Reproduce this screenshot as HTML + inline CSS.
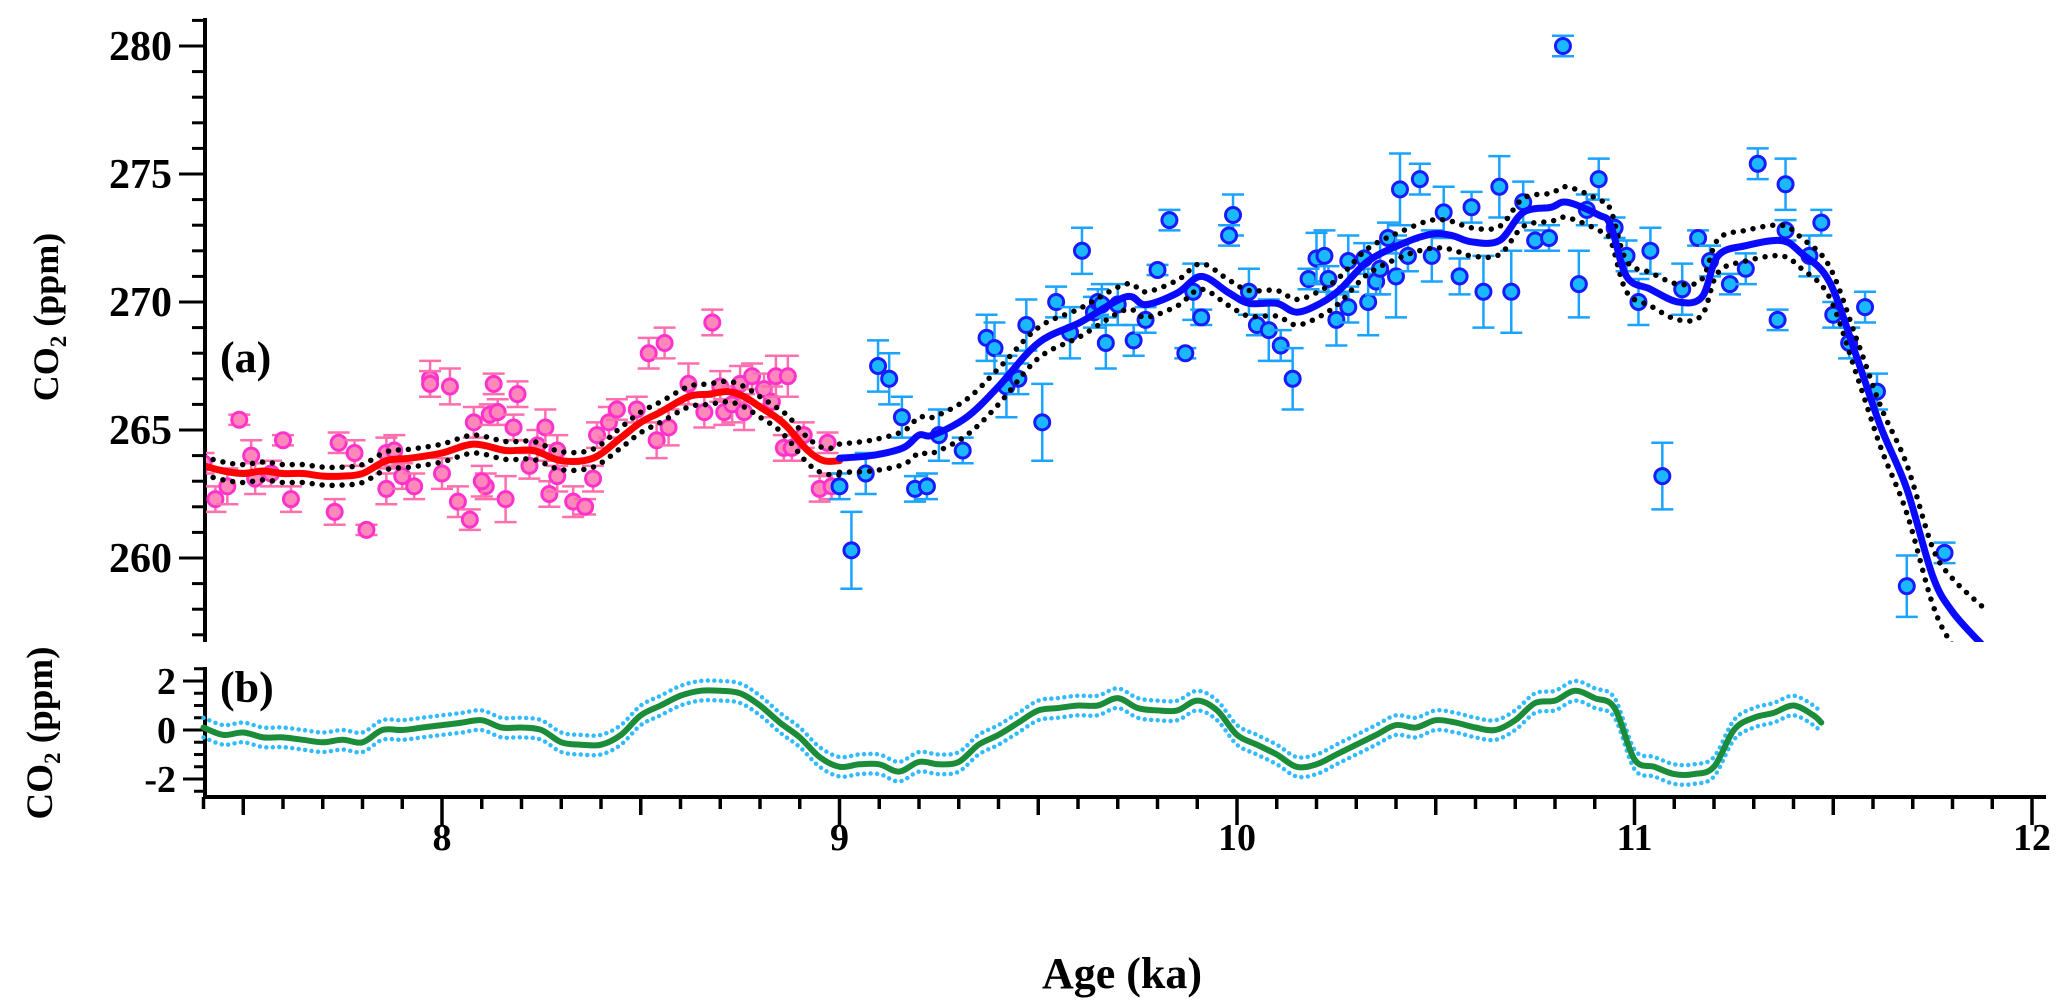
<!DOCTYPE html>
<html><head><meta charset="utf-8"><style>
html,body{margin:0;padding:0;background:#fff;}
svg{display:block;font-family:"Liberation Serif",serif;font-weight:bold;}
</style></head><body>
<svg id="chart" width="2067" height="1005" viewBox="0 0 2067 1005" xmlns="http://www.w3.org/2000/svg">
<defs><clipPath id="clipTop"><rect x="206" y="0" width="1861" height="642"/></clipPath></defs>
<g id="axes"></g>
<g id="topPanel" clip-path="url(#clipTop)"></g>
<g id="botPanel"></g>
<text x="220" y="372" font-size="44">(a)</text>
<text x="220" y="702" font-size="44">(b)</text>
<text transform="translate(58,317) rotate(-90)" text-anchor="middle" font-size="36">CO<tspan font-size="23" dy="8">2</tspan><tspan dy="-8"> (ppm)</tspan></text>
<text transform="translate(52,733) rotate(-90)" text-anchor="middle" font-size="37">CO<tspan font-size="23" dy="8">2</tspan><tspan dy="-8"> (ppm)</tspan></text>
<text x="1122" y="988" text-anchor="middle" font-size="44">Age (ka)</text>
</svg>
<script>
// ---- data ----
const pinkAge=[7.40,7.49,7.52,7.60,7.74,7.78,7.86,7.88,7.97,8.02,8.08,8.12,8.14,8.13,8.19,8.18,8.24,8.26,8.29,8.39,8.42,8.44,8.49,8.52,8.54,8.56,8.68,8.62,8.70,8.66,8.71,8.73,8.75,8.76,8.78,8.81,8.83,8.84,8.87,8.57,8.91,8.97,8.86,8.88,7.43,7.46,7.53,7.57,7.62,7.73,7.81,7.86,7.90,7.93,8.04,8.07,8.11,8.16,8.22,8.27,8.29,8.33,8.36,8.38,8.95,8.98,7.97,8.00,8.10];
const pinkVal=[263.7,265.4,264.0,264.6,264.5,264.1,264.1,264.2,267.0,266.7,265.3,265.6,265.7,266.8,266.4,265.1,264.4,265.1,264.2,264.8,265.3,265.8,265.8,268.0,264.6,268.4,269.2,266.8,266.7,265.7,265.7,266.0,266.8,265.7,267.1,266.6,266.1,267.1,267.1,265.1,264.8,264.5,264.3,264.3,262.3,262.8,263.1,263.3,262.3,261.8,261.1,262.7,263.2,262.8,262.2,261.5,262.8,262.3,263.6,262.5,263.2,262.2,262.0,263.1,262.7,262.8,266.8,263.3,263.0];
const pinkErr=[0.4,0.2,0.6,0.2,0.4,0.5,0.6,0.6,0.7,0.7,0.6,0.4,0.5,0.4,0.5,0.5,0.6,0.7,0.6,0.5,0.6,0.4,0.5,0.6,0.7,0.6,0.5,0.8,0.6,0.6,0.5,0.7,0.7,0.7,0.5,0.6,0.6,0.8,0.8,0.7,0.5,0.4,0.5,0.5,0.5,0.7,0.6,0.5,0.5,0.5,0.2,0.6,0.5,0.5,0.6,0.4,0.5,0.9,0.5,0.5,0.6,0.6,0.3,0.5,0.5,0.5,0.5,0.6,0.6];
const blueAge=[9.00,9.03,9.066,9.097,9.125,9.157,9.19,9.22,9.25,9.31,9.37,9.39,9.42,9.45,9.47,9.51,9.545,9.58,9.61,9.64,9.65,9.66,9.67,9.70,9.74,9.77,9.80,9.83,9.87,9.89,9.91,9.99,9.98,10.03,10.05,10.08,10.11,10.14,10.18,10.20,10.22,10.23,10.25,10.28,10.28,10.32,10.33,10.35,10.36,10.38,10.40,10.41,10.43,10.46,10.49,10.52,10.56,10.59,10.62,10.66,10.69,10.72,10.75,10.785,10.82,10.86,10.91,10.88,10.95,10.98,11.01,11.04,11.07,11.12,11.16,11.19,11.24,11.28,11.31,11.36,11.38,11.38,11.44,11.47,11.50,11.54,11.58,11.61,11.685,11.78];
const blueVal=[262.8,260.3,263.3,267.5,267.0,265.5,262.7,262.8,264.8,264.2,268.6,268.2,266.7,267.0,269.1,265.3,270.0,268.8,272.0,269.6,270.0,269.9,268.4,269.9,268.5,269.3,271.25,273.2,268.0,270.4,269.4,273.4,272.6,270.4,269.1,268.9,268.3,267.0,270.9,271.7,271.8,270.9,269.3,269.8,271.6,271.7,270.0,270.8,271.3,272.5,271.0,274.4,271.8,274.8,271.8,273.5,271.0,273.7,270.4,274.5,270.4,273.9,272.4,272.5,280.0,270.7,274.8,273.6,272.9,271.8,270.0,272.0,263.2,270.5,272.5,271.6,270.7,271.3,275.4,269.3,272.8,274.6,271.8,273.1,269.5,268.4,269.8,266.5,258.9,260.2];
const blueErr=[0.5,1.5,0.8,1.0,1.0,0.8,0.5,0.5,1.0,0.5,0.9,1.0,1.2,0.6,1.0,1.5,0.6,1.0,0.9,0.6,0.5,0.8,1.0,0.8,0.6,0.5,0.2,0.4,0.2,1.1,0.3,0.8,0.4,0.9,0.4,1.2,0.6,1.2,0.4,1.0,1.0,0.5,1.0,0.6,1.0,0.6,1.3,0.5,1.0,0.6,1.6,1.4,0.6,0.6,1.0,1.0,0.7,0.6,1.4,1.2,1.6,0.8,0.4,0.5,0.4,1.3,0.8,0.6,0.4,0.6,0.9,0.9,1.3,1.0,0.3,0.6,0.4,0.6,0.6,0.4,0.4,1.0,0.8,0.5,0.5,0.6,0.6,0.7,1.2,0.4];
const redAge=[7.40,7.45,7.50,7.55,7.60,7.65,7.70,7.75,7.80,7.86,7.92,8.00,8.08,8.16,8.23,8.30,8.38,8.45,8.50,8.55,8.62,8.67,8.72,8.76,8.80,8.84,8.87,8.92,8.96,9.00];
const redVal=[263.6,263.4,263.3,263.4,263.3,263.3,263.2,263.2,263.3,263.8,263.9,264.1,264.45,264.2,264.2,263.8,263.9,264.7,265.3,265.7,266.3,266.4,266.5,266.3,265.9,265.5,265.1,264.2,263.8,263.8];
const redBand=[0.35,0.35,0.35,0.35,0.35,0.35,0.35,0.35,0.35,0.35,0.35,0.35,0.35,0.35,0.35,0.35,0.35,0.4,0.4,0.4,0.4,0.4,0.4,0.4,0.4,0.4,0.45,0.5,0.5,0.55];
const blueAgeC=[9.00,9.08,9.16,9.20,9.235,9.32,9.40,9.50,9.605,9.72,9.77,9.85,9.91,9.98,10.03,10.10,10.15,10.21,10.26,10.33,10.42,10.49,10.54,10.59,10.66,10.72,10.79,10.83,10.91,10.94,10.98,11.04,11.11,11.17,11.21,11.28,11.37,11.42,11.49,11.56,11.62,11.685,11.75,11.80,11.875];
const blueValC=[263.9,264.0,264.3,264.8,264.8,265.5,266.7,268.4,269.2,270.2,269.9,270.35,271.0,270.35,269.95,269.95,269.6,269.95,270.5,271.6,272.3,272.65,272.6,272.35,272.4,273.5,273.7,273.9,273.4,273.0,271.0,270.5,270.0,270.2,271.8,272.2,272.4,271.9,270.8,267.8,265.1,262.7,259.3,257.9,256.6];
const blueBand=[0.55,0.6,0.65,0.7,0.7,0.7,0.7,0.6,0.55,0.5,0.5,0.5,0.5,0.5,0.5,0.5,0.5,0.5,0.5,0.5,0.5,0.55,0.55,0.55,0.55,0.55,0.55,0.6,0.6,0.6,0.6,0.65,0.7,0.7,0.65,0.6,0.6,0.6,0.6,0.7,0.8,0.95,1.1,1.3,1.5];
const resAge=[7.40,7.45,7.50,7.55,7.60,7.65,7.70,7.75,7.80,7.85,7.90,7.95,8.00,8.05,8.10,8.15,8.20,8.25,8.30,8.35,8.40,8.45,8.50,8.55,8.60,8.65,8.70,8.75,8.80,8.85,8.90,8.95,9.00,9.05,9.10,9.15,9.20,9.25,9.30,9.35,9.40,9.45,9.50,9.55,9.60,9.65,9.70,9.75,9.80,9.85,9.90,9.95,10.00,10.05,10.10,10.15,10.20,10.25,10.30,10.35,10.40,10.45,10.50,10.55,10.60,10.65,10.70,10.75,10.80,10.85,10.90,10.95,11.00,11.05,11.10,11.15,11.20,11.25,11.30,11.35,11.40,11.45,11.47];
const resVal=[0.1,-0.2,-0.1,-0.3,-0.3,-0.4,-0.5,-0.4,-0.5,0.0,0.0,0.1,0.2,0.3,0.4,0.1,0.1,0.0,-0.5,-0.6,-0.6,-0.2,0.6,1.0,1.4,1.6,1.6,1.5,1.0,0.3,-0.3,-1.1,-1.5,-1.4,-1.4,-1.7,-1.3,-1.4,-1.3,-0.6,-0.2,0.3,0.8,0.9,1.0,1.0,1.3,0.9,0.8,0.8,1.2,0.8,-0.2,-0.6,-1.0,-1.5,-1.4,-1.0,-0.6,-0.2,0.2,0.1,0.4,0.3,0.1,0.0,0.4,1.1,1.2,1.6,1.3,0.9,-1.2,-1.5,-1.8,-1.8,-1.5,0.0,0.5,0.7,1.0,0.6,0.3];
const resBand=0.4;
const xTicks=[8,9,10,11,12];
const yTicksA=[260,265,270,275,280];
const yTicksB=[-2,0,2];

// ---- scales ----
const X0=442, XS=397.5;
const xS=a=>X0+(a-8)*XS;
const yA=v=>302-(v-270)*25.6;
const yB=v=>730-v*24.5;
const NS="http://www.w3.org/2000/svg";
function mk(tag,attrs,parent){const e=document.createElementNS(NS,tag);for(const k in attrs)e.setAttribute(k,attrs[k]);parent.appendChild(e);return e;}
function smooth(pts){let d="M"+pts[0][0].toFixed(1)+","+pts[0][1].toFixed(1);
 for(let i=0;i<pts.length-1;i++){const p0=pts[i-1]||pts[i],p1=pts[i],p2=pts[i+1],p3=pts[i+2]||p2;
  const c1=[p1[0]+(p2[0]-p0[0])/6,p1[1]+(p2[1]-p0[1])/6],c2=[p2[0]-(p3[0]-p1[0])/6,p2[1]-(p3[1]-p1[1])/6];
  d+="C"+c1[0].toFixed(1)+","+c1[1].toFixed(1)+" "+c2[0].toFixed(1)+","+c2[1].toFixed(1)+" "+p2[0].toFixed(1)+","+p2[1].toFixed(1);}
 return d;}

const gAxes=document.getElementById('axes'),gTop=document.getElementById('topPanel'),gBot=document.getElementById('botPanel');
let el;
el=mk('line',{x1:205,y1:18,x2:205,y2:642,stroke:'#000','stroke-width':4},gAxes);


for(let v=257;v<=281;v++){const maj=v%5===0;
 el=mk('line',{x1:maj?179:192,x2:205,y1:yA(v),y2:yA(v),stroke:'#000','stroke-width':3},gAxes);
 
 }
yTicksA.forEach(v=>{el=mk('text',{x:172,y:yA(v)+14,'text-anchor':'end','font-size':42},gAxes);el.textContent=v;
 
 });
el=mk('line',{x1:205,y1:667,x2:205,y2:798,stroke:'#000','stroke-width':4},gAxes);


for(let k=-5;k<=5;k++){const v=k*0.5;const maj=(k%4===0);
 el=mk('line',{x1:maj?183:194,x2:205,y1:yB(v),y2:yB(v),stroke:'#000','stroke-width':3},gAxes);
 
 }
yTicksB.forEach(v=>{el=mk('text',{x:176,y:yB(v)+13,'text-anchor':'end','font-size':38},gAxes);el.textContent=v;
 
 });
el=mk('line',{x1:203,y1:797,x2:2046,y2:797,stroke:'#000','stroke-width':4},gAxes);


for(let i=0;i<=46;i++){const a=7.4+i*0.1;const r=Math.round(a*10);const maj=r%10===0, mid=r%5===0;
 el=mk('line',{x1:xS(a),x2:xS(a),y1:797,y2:maj?825:(mid?815:809),stroke:'#000','stroke-width':3.5},gAxes);
 
 }
xTicks.forEach(v=>{el=mk('text',{x:xS(v),y:850,'text-anchor':'middle','font-size':38},gAxes);el.textContent=v;
 
 });

function points(ages,vals,errs,ecol,fill,stroke,name){
 ages.forEach((a,i)=>{const x=xS(a),y=yA(vals[i]),e=errs[i]*25.6;
  const g=mk('g',{},gTop);
  
  
  mk('path',{d:`M${x},${y-e}V${y+e}M${x-11},${y-e}h22M${x-11},${y+e}h22`,stroke:ecol,'stroke-width':2.5,fill:'none'},g);
  mk('circle',{cx:x,cy:y,r:7.5,fill:fill,stroke:stroke,'stroke-width':3},g);});}
points(pinkAge,pinkVal,pinkErr,'#ff6fae','#ff88bb','#ff33cc','pink-data-point');
points(blueAge,blueVal,blueErr,'#1aa3ff','#1ab8ff','#1a1aff','blue-data-point');

function curve(parent,ages,vals,ys,stroke,w,dash,name){
 const p=mk('path',{d:smooth(ages.map((a,i)=>[xS(a),ys(vals[i])])),fill:'none',stroke:stroke,'stroke-width':w,'stroke-linecap':'round','stroke-linejoin':'round'},parent);
 if(dash)p.setAttribute('stroke-dasharray',dash);
 
 }
curve(gTop,redAge,redVal.map((v,i)=>v+redBand[i]),yA,'#000',5.5,'0 10','red-upper-band');
curve(gTop,redAge,redVal.map((v,i)=>v-redBand[i]),yA,'#000',5.5,'0 10','red-lower-band');
curve(gTop,blueAgeC,blueValC.map((v,i)=>v+blueBand[i]),yA,'#000',5.5,'0 10','blue-upper-band');
curve(gTop,blueAgeC,blueValC.map((v,i)=>v-blueBand[i]),yA,'#000',5.5,'0 10','blue-lower-band');
curve(gTop,redAge,redVal,yA,'#ff0000',7,null,'red-fit-line');
curve(gTop,blueAgeC,blueValC,yA,'#0a0aff',7,null,'blue-fit-line');
curve(gBot,resAge,resVal.map(v=>v+resBand),yB,'#33bbff',4.5,'0 6.5','residual-upper-band');
curve(gBot,resAge,resVal.map(v=>v-resBand),yB,'#33bbff',4.5,'0 6.5','residual-lower-band');
curve(gBot,resAge,resVal,yB,'#1a8c3a',6,null,'residual-line');
</script>
</body></html>
